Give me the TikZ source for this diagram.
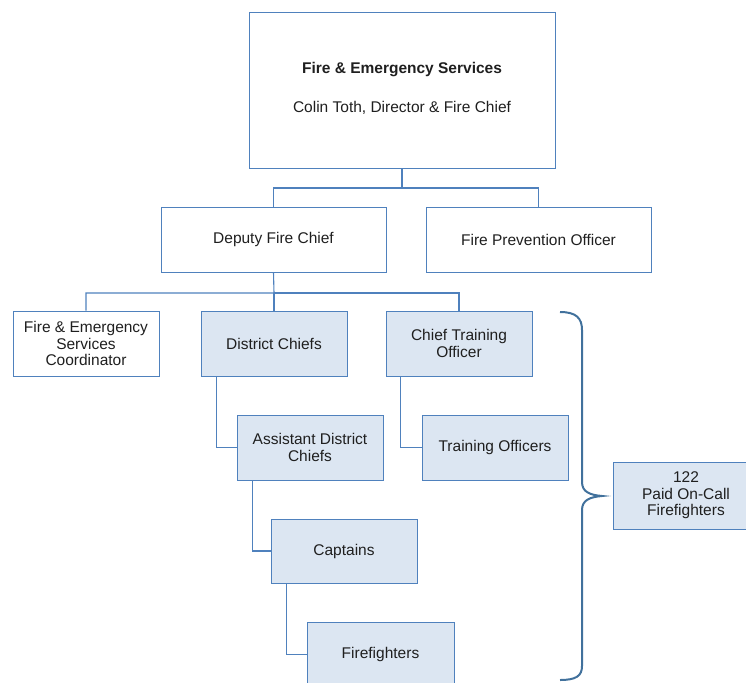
\documentclass[tikz,border=0pt]{standalone}
\usepackage{fontspec}
\setmainfont{Liberation Sans}
\definecolor{boxline}{HTML}{4F81BD}
\definecolor{boxfill}{HTML}{DCE6F2}
\definecolor{braceline}{HTML}{41719C}
\definecolor{inktext}{HTML}{1F1F1F}
\tikzset{
	post/.style = {draw = boxline, line width = 1pt, align = center, inner sep = 0pt, text = inktext,
		minimum width = 146pt, minimum height = 65pt, font = \fontsize{15.5}{16.5}\selectfont},
	staff/.style = {post, fill = boxfill},
	link/.style = {draw = boxline, line width = 1.1pt}
}
\begin{document}
\begin{tikzpicture}[x = 1pt, y = -1pt]

	\path [use as bounding box, clip] (0, 0) rectangle (746, 682);

	% Top levels

	\node [post, minimum width = 306pt, minimum height = 155pt] (chief) at (402, 90.5) {};
	\node [text = inktext, font = \bfseries\fontsize{15.5}{16.5}\selectfont] (chieftitle) at (402, 70) {Fire \& Emergency Services};
	\node [text = inktext, font = \fontsize{15.5}{16.5}\selectfont] (chiefname) at (402, 108) {Colin Toth, Director \& Fire Chief};

	\node [post, minimum width = 225pt] (deputy) at (273.5, 239.5) {Deputy Fire Chief};
	\node [post, minimum width = 225pt] (prevention) at (538.5, 239.5) {Fire Prevention Officer};

	% Deputy's reports

	\node [post] (coordinator) at (86, 343.5) {Fire \& Emergency\\Services\\Coordinator};
	\node [staff] (district) at (274, 343.5) {District Chiefs};
	\node [staff] (trainchief) at (459, 343.5) {Chief Training\\Officer};

	\node [staff] (assistant) at (310, 447.5) {Assistant District\\Chiefs};
	\node [staff] (trainers) at (495, 447.5) {Training Officers};
	\node [staff, minimum height = 64pt] (captains) at (344, 551) {Captains};
	\node [staff, minimum width = 147pt] (firefighters) at (380.5, 654.5) {Firefighters};

	\node [staff, minimum height = 67pt] (oncall) at (686, 495.5) {122\\Paid On-Call\\Firefighters};

	% Connectors

	\coordinate (split1) at (402, 188);
	\coordinate (split2) at (274, 293);

	\draw [link] (chief.south) -- (split1) -| (deputy.north);
	\draw [link] (split1) -| (prevention.north);

	\draw [link] (deputy.south) -- (split2) -| (coordinator.north);
	\draw [link] (split2) -| (district.north);
	\draw [link] (split2) -| (trainchief.north);

	\draw [link] ([xshift = 16pt] district.south west) |- (assistant.west);
	\draw [link] ([xshift = 15pt] trainchief.south west) |- (trainers.west);
	\draw [link] ([xshift = 16pt] assistant.south west) |- (captains.west);
	\draw [link] ([xshift = 16pt] captains.south west) |- (firefighters.west);

	% Brace

	\draw [braceline, line width = 2pt] (560, 312) .. controls (576, 312) and (582, 318) .. (582, 330)
		-- (582, 482) .. controls (582, 492) and (590, 495) .. (602, 496)
		.. controls (590, 497) and (582, 500) .. (582, 510)
		-- (582, 666) .. controls (582, 676) and (576, 680) .. (560, 680);

\end{tikzpicture}
\end{document}
